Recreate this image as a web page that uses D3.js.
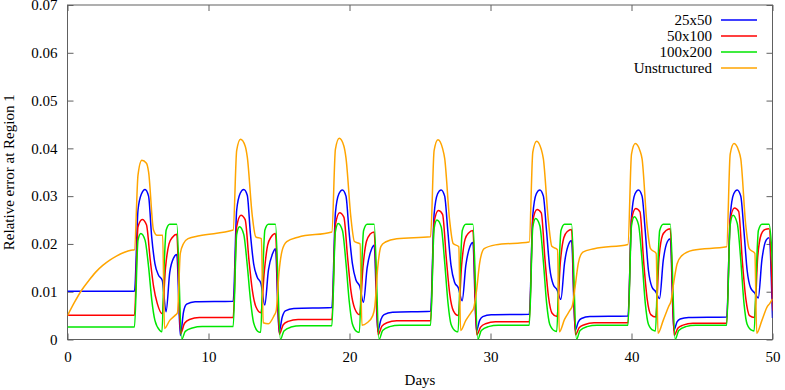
<!DOCTYPE html>
<html>
<head>
<meta charset="utf-8">
<script src="https://cdn.jsdelivr.net/npm/d3@7/dist/d3.min.js"></script>
<style>
  body { margin: 0; background: #fff; }
</style>
</head>
<body>
<div class="chart"></div>
<script>
// Chart size
var width = 785;
var height = 390;
var margin = {top: 5, right: 12.5, bottom: 50.5, left: 67.5};
var fontFamily = '"Liberation Serif", "DejaVu Serif", "Times New Roman", serif';

// Tick labels
var xTicks = [0, 10, 20, 30, 40, 50];
var yTicks = [0, 0.01, 0.02, 0.03, 0.04, 0.05, 0.06, 0.07];

// Day each weekly pulse starts
var pulseStarts = [4.75, 11.75, 18.75, 25.75, 32.75, 39.75, 46.75];

// 25x50 (blue)
var blueBeforeDays = [0];
var blueBeforeVals = [0.0101];
var blueOffsets = [0, 0.25, 0.5, 0.75, 1.0, 1.22, 1.45, 1.7, 1.97, 2.24, 2.5, 2.8, 3.0, 3.25, 3.48, 3.7, 4.3];
var blueWeeks = [
  [0.0101, 0.0271, 0.0305, 0.0314, 0.0300, 0.0215, 0.0159, 0.0135, 0.0124, 0.0058, 0.0140, 0.0172, 0.0178, 0.0008, 0.0058, 0.0074, 0.0079],
  [0.0080, 0.0271, 0.0306, 0.0314, 0.0302, 0.0222, 0.0159, 0.0131, 0.0117, 0.0072, 0.0145, 0.0180, 0.0190, 0.0015, 0.0047, 0.0060, 0.0065],
  [0.0067, 0.0265, 0.0305, 0.0313, 0.0300, 0.0225, 0.0160, 0.0125, 0.0112, 0.0078, 0.0150, 0.0188, 0.0197, 0.0017, 0.0042, 0.0052, 0.0057],
  [0.0059, 0.0262, 0.0305, 0.0313, 0.0300, 0.0228, 0.0155, 0.0120, 0.0108, 0.0081, 0.0155, 0.0195, 0.0203, 0.0018, 0.0040, 0.0048, 0.0052],
  [0.0053, 0.0260, 0.0305, 0.0313, 0.0300, 0.0229, 0.0150, 0.0115, 0.0104, 0.0084, 0.0160, 0.0200, 0.0207, 0.0019, 0.0037, 0.0044, 0.0048],
  [0.0049, 0.0257, 0.0305, 0.0313, 0.0300, 0.0229, 0.0145, 0.0110, 0.0100, 0.0086, 0.0165, 0.0205, 0.0211, 0.0019, 0.0037, 0.0043, 0.0046],
  [0.0047, 0.0257, 0.0305, 0.0313, 0.0300, 0.0229, 0.0145, 0.0108, 0.0098, 0.0087, 0.0167, 0.0208, 0.0213, 0.0045]
];

// 50x100 (red)
var redBeforeDays = [0];
var redBeforeVals = [0.0051];
var redOffsets = [0, 0.25, 0.55, 0.85, 1.12, 1.36, 1.62, 1.97, 2.2, 2.45, 2.7, 3.0, 3.27, 3.55, 3.9, 4.6];
var redWeeks = [
  [0.0051, 0.0236, 0.0251, 0.0240, 0.0166, 0.0110, 0.0075, 0.0054, 0.0150, 0.0200, 0.0214, 0.0220, 0.0012, 0.0034, 0.0042, 0.0046],
  [0.0046, 0.0236, 0.0260, 0.0251, 0.0166, 0.0103, 0.0068, 0.0056, 0.0140, 0.0198, 0.0215, 0.0222, 0.0011, 0.0031, 0.0038, 0.0042],
  [0.0042, 0.0240, 0.0265, 0.0256, 0.0170, 0.0100, 0.0065, 0.0052, 0.0150, 0.0205, 0.0220, 0.0225, 0.0010, 0.0028, 0.0035, 0.0039],
  [0.0039, 0.0245, 0.0270, 0.0262, 0.0168, 0.0095, 0.0060, 0.0050, 0.0155, 0.0210, 0.0223, 0.0228, 0.0010, 0.0026, 0.0033, 0.0037],
  [0.0037, 0.0248, 0.0272, 0.0265, 0.0165, 0.0090, 0.0055, 0.0048, 0.0160, 0.0213, 0.0226, 0.0230, 0.0010, 0.0025, 0.0031, 0.0035],
  [0.0035, 0.0250, 0.0274, 0.0267, 0.0160, 0.0085, 0.0052, 0.0047, 0.0170, 0.0218, 0.0228, 0.0232, 0.0009, 0.0024, 0.0030, 0.0034],
  [0.0034, 0.0250, 0.0275, 0.0268, 0.0160, 0.0085, 0.0050, 0.0046, 0.0172, 0.0220, 0.0230, 0.0232, 0.0060]
];

// 100x200 (green)
var greenBeforeDays = [0];
var greenBeforeVals = [0.0026];
var greenOffsets = [0, 0.25, 0.45, 0.75, 1.0, 1.23, 1.45, 1.8, 1.95, 2.1, 2.25, 2.5, 3.0, 3.35, 3.6, 4.1, 4.8];
var greenWeeks = [
  [0.0026, 0.0208, 0.0222, 0.0208, 0.0152, 0.0082, 0.0040, 0.0019, 0.0016, 0.0152, 0.0229, 0.0241, 0.0241, 0.0000, 0.0017, 0.0024, 0.0027],
  [0.0027, 0.0220, 0.0236, 0.0220, 0.0155, 0.0082, 0.0035, 0.0016, 0.0015, 0.0140, 0.0229, 0.0241, 0.0241, 0.0000, 0.0018, 0.0026, 0.0029],
  [0.0029, 0.0226, 0.0243, 0.0228, 0.0160, 0.0080, 0.0033, 0.0016, 0.0015, 0.0140, 0.0228, 0.0241, 0.0241, 0.0000, 0.0019, 0.0027, 0.0030],
  [0.0030, 0.0232, 0.0250, 0.0236, 0.0162, 0.0078, 0.0032, 0.0017, 0.0016, 0.0140, 0.0228, 0.0241, 0.0241, 0.0000, 0.0019, 0.0027, 0.0030],
  [0.0030, 0.0235, 0.0253, 0.0238, 0.0163, 0.0076, 0.0032, 0.0018, 0.0017, 0.0140, 0.0228, 0.0241, 0.0241, 0.0000, 0.0019, 0.0027, 0.0030],
  [0.0030, 0.0238, 0.0257, 0.0240, 0.0165, 0.0075, 0.0032, 0.0019, 0.0018, 0.0140, 0.0228, 0.0241, 0.0241, 0.0000, 0.0019, 0.0027, 0.0030],
  [0.0030, 0.0240, 0.0260, 0.0243, 0.0166, 0.0075, 0.0032, 0.0019, 0.0018, 0.0140, 0.0228, 0.0241, 0.0241, 0.0100]
];

// Unstructured (orange)
var orangeBeforeDays = [0, 0.5, 1.0, 1.5, 2.0, 2.5, 3.0, 3.5, 4.0, 4.5];
var orangeBeforeVals = [0.0050, 0.0078, 0.0103, 0.0123, 0.0141, 0.0155, 0.0166, 0.0175, 0.0182, 0.0187];
var orangeOffsets = [0, 0.25, 0.52, 0.85, 1.0, 1.35, 1.6, 2.0, 2.13, 2.5, 2.9, 3.05, 3.25, 3.48, 3.8, 4.6];
var orangeWeeks = [
  [0.0188, 0.0344, 0.0375, 0.0369, 0.0351, 0.0229, 0.0218, 0.0218, 0.0023, 0.0040, 0.0051, 0.0056, 0.0180, 0.0201, 0.0211, 0.0217],
  [0.0229, 0.0396, 0.0419, 0.0405, 0.0382, 0.0260, 0.0215, 0.0211, 0.0035, 0.0033, 0.0050, 0.0060, 0.0140, 0.0187, 0.0205, 0.0214],
  [0.0225, 0.0398, 0.0421, 0.0405, 0.0380, 0.0255, 0.0205, 0.0200, 0.0030, 0.0035, 0.0050, 0.0070, 0.0150, 0.0195, 0.0204, 0.0211],
  [0.0215, 0.0395, 0.0418, 0.0400, 0.0379, 0.0250, 0.0201, 0.0194, 0.0019, 0.0040, 0.0058, 0.0065, 0.0100, 0.0160, 0.0190, 0.0198],
  [0.0204, 0.0392, 0.0415, 0.0398, 0.0378, 0.0250, 0.0195, 0.0188, 0.0016, 0.0042, 0.0062, 0.0070, 0.0110, 0.0160, 0.0183, 0.0190],
  [0.0199, 0.0388, 0.0410, 0.0395, 0.0378, 0.0240, 0.0190, 0.0180, 0.0013, 0.0040, 0.0070, 0.0080, 0.0120, 0.0158, 0.0175, 0.0187],
  [0.0194, 0.0388, 0.0410, 0.0395, 0.0378, 0.0240, 0.0190, 0.0180, 0.0013, 0.0040, 0.0070, 0.0075, 0.0085]
];

var seriesNames = ['25x50', '50x100', '100x200', 'Unstructured'];
var seriesColors = ['#0000ff', '#ff0000', '#00e600', '#ffa500'];

// Put a series together: lead-in segment, then one pulse per week
var buildSeries = function(beforeDays, beforeVals, offsets, weeks) {
  var pts = beforeDays.map(function(d, i) { return [d, beforeVals[i]]; });
  weeks.forEach(function(row, k) {
    row.forEach(function(v, i) { pts.push([pulseStarts[k] + offsets[i], v]); });
  });
  return pts;
};

var series = [
  buildSeries(blueBeforeDays, blueBeforeVals, blueOffsets, blueWeeks),
  buildSeries(redBeforeDays, redBeforeVals, redOffsets, redWeeks),
  buildSeries(greenBeforeDays, greenBeforeVals, greenOffsets, greenWeeks),
  buildSeries(orangeBeforeDays, orangeBeforeVals, orangeOffsets, orangeWeeks)
];

var xScale = d3.scaleLinear()
               .domain([0, 50])
               .range([margin.left, width - margin.right]);

var yScale = d3.scaleLinear()
               .domain([0, 0.07])
               .range([height - margin.bottom, margin.top]);

var svg = d3.select('.chart')
            .append('svg')
            .attr('width', width)
            .attr('height', height)
            .attr('font-family', fontFamily)
            .attr('font-size', 15);

svg.append('clipPath')
   .attr('id', 'plot-clip')
   .append('rect')
   .attr('x', xScale(0))
   .attr('y', yScale(0.07))
   .attr('width', xScale(50) - xScale(0))
   .attr('height', yScale(0) - yScale(0.07));

// Axes with inward ticks, mirrored on the opposite sides
var axisColor = '#606060';
var tickLen = 6;

var bottomAxis = svg.append('g')
   .attr('transform', 'translate(0,' + yScale(0) + ')')
   .call(d3.axisBottom(xScale).tickValues(xTicks).tickSizeInner(-tickLen).tickSizeOuter(0).tickPadding(12).tickFormat(d3.format('d')));
var leftAxis = svg.append('g')
   .attr('transform', 'translate(' + xScale(0) + ',0)')
   .call(d3.axisLeft(yScale).tickValues(yTicks).tickSizeInner(-tickLen).tickSizeOuter(0).tickPadding(10)
         .tickFormat(function(d) { return d === 0 ? '0' : d3.format('.2f')(d); }));
var topAxis = svg.append('g')
   .attr('transform', 'translate(0,' + yScale(0.07) + ')')
   .call(d3.axisTop(xScale).tickValues(xTicks).tickSizeInner(-tickLen).tickSizeOuter(0).tickFormat(''));
var rightAxis = svg.append('g')
   .attr('transform', 'translate(' + xScale(50) + ',0)')
   .call(d3.axisRight(yScale).tickValues(yTicks).tickSizeInner(-tickLen).tickSizeOuter(0).tickFormat(''));

[bottomAxis, leftAxis, topAxis, rightAxis].forEach(function(g) {
  g.attr('font-family', fontFamily).attr('font-size', 15);
  g.select('.domain').remove();
  g.selectAll('line').attr('stroke', axisColor);
  g.selectAll('text').attr('fill', '#000');
});

// Border box
svg.append('rect')
   .attr('x', xScale(0))
   .attr('y', yScale(0.07))
   .attr('width', xScale(50) - xScale(0))
   .attr('height', yScale(0) - yScale(0.07))
   .attr('fill', 'none')
   .attr('stroke', axisColor)
   .attr('stroke-width', 1);

// Lines
var line = d3.line()
             .x(function(d) { return xScale(d[0]); })
             .y(function(d) { return yScale(d[1]); })
             .curve(d3.curveMonotoneX);

svg.append('g')
   .attr('clip-path', 'url(#plot-clip)')
   .selectAll('path')
   .data(series)
   .enter()
   .append('path')
   .attr('d', line)
   .attr('fill', 'none')
   .attr('stroke', function(d, i) { return seriesColors[i]; })
   .attr('stroke-width', 1.5)
   .attr('stroke-linejoin', 'round');

// Legend
var legend = svg.append('g')
   .selectAll('g')
   .data(seriesNames)
   .enter()
   .append('g')
   .attr('transform', function(d, i) { return 'translate(0,' + (20 + i * 16) + ')'; });

legend.append('text')
      .attr('x', 712)
      .attr('y', 5)
      .style('text-anchor', 'end')
      .text(function(d) { return d; });

legend.append('line')
      .attr('x1', 721)
      .attr('x2', 757)
      .attr('y1', 0)
      .attr('y2', 0)
      .attr('stroke', function(d, i) { return seriesColors[i]; })
      .attr('stroke-width', 1.5);

// Axis titles
svg.append('text')
   .attr('x', (xScale(0) + xScale(50)) / 2)
   .attr('y', 385)
   .style('text-anchor', 'middle')
   .text('Days');

svg.append('text')
   .attr('transform', 'translate(14,' + ((yScale(0) + yScale(0.07)) / 2) + ') rotate(-90)')
   .style('text-anchor', 'middle')
   .text('Relative error at Region 1');
</script>
</body>
</html>
